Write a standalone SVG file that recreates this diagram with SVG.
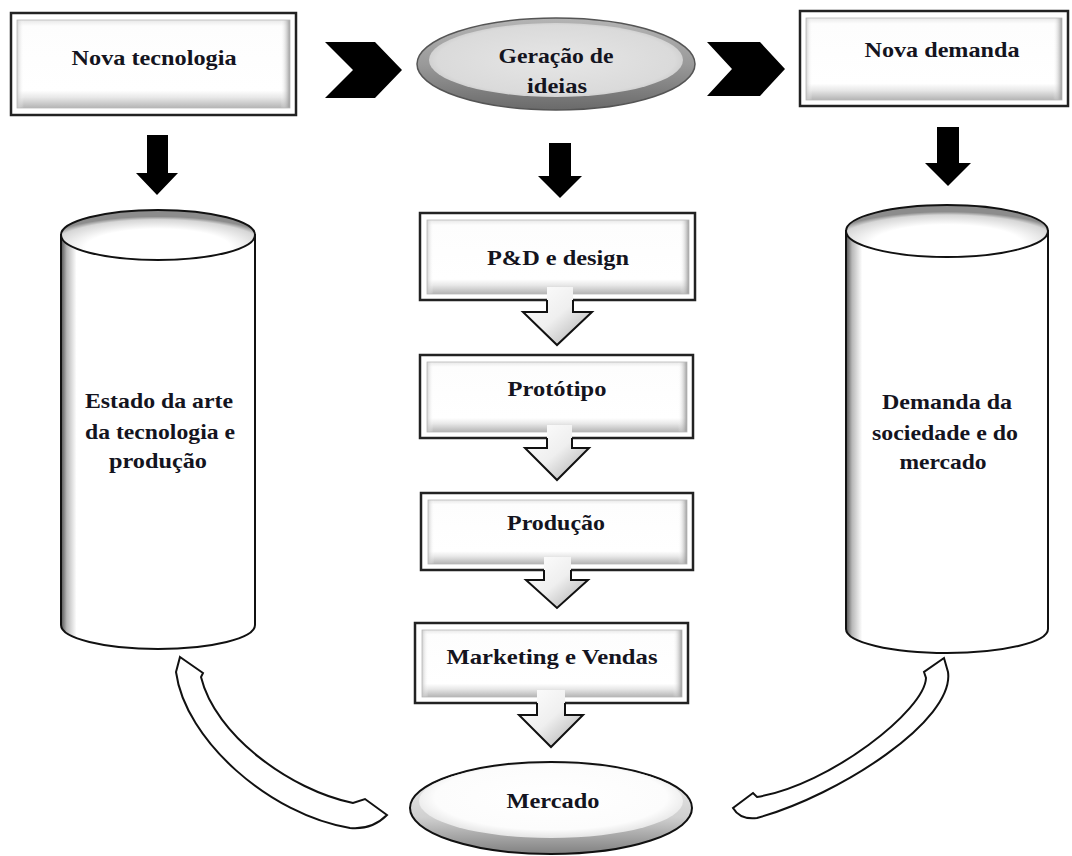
<svg xmlns="http://www.w3.org/2000/svg" width="1072" height="856" viewBox="0 0 1072 856">
<style>
.lbl{font-family:"Liberation Serif","Times New Roman",serif;font-weight:bold;font-size:22px;fill:#141420;text-anchor:middle}
.outer{fill:#fff;stroke:#222;stroke-width:2.5}
.bevV{fill:url(#bevV)}
.bevH{fill:url(#bevH);stroke:#b8b8b8;stroke-width:0.8}
.blk{fill:#000}
.hol{fill:url(#holG);stroke:none}
.holS{fill:none;stroke:#111;stroke-width:2;stroke-linejoin:miter}
.cyl{fill:url(#cylG);stroke:#111;stroke-width:2}
.cylTop{fill:url(#cylTopG);stroke:#111;stroke-width:2}
.curv{fill:#fff;stroke:#111;stroke-width:2;stroke-linejoin:miter}
</style>
<defs>
<linearGradient id="bevV" x1="0" y1="0" x2="0" y2="1">
<stop offset="0" stop-color="#e8e8e8"/>
<stop offset="0.07" stop-color="#fdfdfd"/>
<stop offset="0.8" stop-color="#ffffff"/>
<stop offset="0.88" stop-color="#e8e8e8"/>
<stop offset="1" stop-color="#b4b4b4"/>
</linearGradient>
<linearGradient id="bevH" x1="0" y1="0" x2="1" y2="0">
<stop offset="0" stop-color="#c4c4c4" stop-opacity="0.8"/>
<stop offset="0.025" stop-color="#ffffff" stop-opacity="0"/>
<stop offset="0.965" stop-color="#ffffff" stop-opacity="0"/>
<stop offset="1" stop-color="#909090" stop-opacity="0.9"/>
</linearGradient>
<linearGradient id="holG" x1="0" y1="0" x2="1" y2="1">
<stop offset="0" stop-color="#ffffff"/>
<stop offset="0.5" stop-color="#efefef"/>
<stop offset="1" stop-color="#a8a8a8"/>
</linearGradient>
<linearGradient id="cylG" x1="0" y1="0" x2="1" y2="0">
<stop offset="0" stop-color="#505050"/>
<stop offset="0.03" stop-color="#b8b8b8"/>
<stop offset="0.08" stop-color="#ffffff"/>
<stop offset="1" stop-color="#ffffff"/>
</linearGradient>
<radialGradient id="cylTopG" cx="0.5" cy="0.75" r="0.62">
<stop offset="0.6" stop-color="#ffffff"/>
<stop offset="0.9" stop-color="#d6d6d6"/>
<stop offset="1" stop-color="#8c8c8c"/>
</radialGradient>
<linearGradient id="ellGray" x1="0" y1="0" x2="0" y2="1">
<stop offset="0" stop-color="#b4b4b4"/>
<stop offset="0.5" stop-color="#9a9a9a"/>
<stop offset="1" stop-color="#6a6a6a"/>
</linearGradient>
<radialGradient id="ellGrayIn" cx="0.5" cy="0.5" r="0.55">
<stop offset="0" stop-color="#e6e6e6"/>
<stop offset="0.85" stop-color="#dadada"/>
<stop offset="1" stop-color="#c4c4c4"/>
</radialGradient>
<linearGradient id="ellWhite" x1="0" y1="0" x2="0" y2="1">
<stop offset="0" stop-color="#f4f4f4"/>
<stop offset="0.6" stop-color="#d0d0d0"/>
<stop offset="1" stop-color="#808080"/>
</linearGradient>
<radialGradient id="ellWhiteIn" cx="0.5" cy="0.45" r="0.55">
<stop offset="0" stop-color="#ffffff"/>
<stop offset="0.8" stop-color="#fcfcfc"/>
<stop offset="1" stop-color="#e4e4e4"/>
</radialGradient>
</defs>

<g id="connectors">
<polygon class="blk" points="325,42 375,42 402,70 375,98 325,98 353,70"/>
<polygon class="blk" points="707,42 760,42 785,69 760,96 707,96 732,69"/>
<polygon class="blk" points="147,135 168,135 168,173 178,173 157,195 136,173 147,173"/>
<polygon class="blk" points="549,143 571,143 571,176 582,176 560,198 538,176 549,176"/>
<polygon class="blk" points="937,127 959,127 959,163 971,163 948,186 925,163 937,163"/>
<path class="curv" d="M180,657 L203,673 L201,677 C215,735 290,790 353,803 L365,799 L387,815 Q372,830 350,828 C270,815 185,740 176,672 Z"/>
<path class="curv" d="M944,658 L924,672 L926,678 C925,710 830,785 757,797 L753,793 L733,808 Q740,820 757,818 C840,795 955,720 948,672 Z"/>
</g>

<g id="nova-tecnologia">
<rect class="outer" x="11" y="13" width="285" height="102"/>
<rect class="bevV" x="17" y="20" width="273" height="88"/>
<rect class="bevH" x="17" y="20" width="273" height="88"/>
<text class="lbl" x="154" y="65" textLength="165" lengthAdjust="spacingAndGlyphs">Nova tecnologia</text>
</g>

<g id="geracao-ideias">
<ellipse cx="556" cy="64" rx="139" ry="46" fill="url(#ellGray)" stroke="#555" stroke-width="1.5"/>
<ellipse cx="556" cy="60" rx="127" ry="37" fill="url(#ellGrayIn)"/>
<text class="lbl" x="556" y="63" textLength="115" lengthAdjust="spacingAndGlyphs">Geração de</text>
<text class="lbl" x="557" y="93" textLength="60" lengthAdjust="spacingAndGlyphs">ideias</text>
</g>

<g id="nova-demanda">
<rect class="outer" x="800" y="11" width="268" height="95"/>
<rect class="bevV" x="806" y="18" width="256" height="82"/>
<rect class="bevH" x="806" y="18" width="256" height="82"/>
<text class="lbl" x="942" y="57" textLength="155" lengthAdjust="spacingAndGlyphs">Nova demanda</text>
</g>

<g id="estado-arte">
<path class="cyl" d="M61,235 L61,625 A97,24 0 0 0 255,625 L255,235 Z"/>
<ellipse class="cylTop" cx="158" cy="235" rx="97" ry="25"/>
<text class="lbl" x="159" y="408" textLength="148" lengthAdjust="spacingAndGlyphs">Estado da arte</text>
<text class="lbl" x="160" y="439" textLength="150" lengthAdjust="spacingAndGlyphs">da tecnologia e</text>
<text class="lbl" x="158" y="468" textLength="98" lengthAdjust="spacingAndGlyphs">produção</text>
</g>

<g id="demanda-sociedade">
<path class="cyl" d="M846,231 L846,629 A101,24 0 0 0 1048,629 L1048,231 Z"/>
<ellipse class="cylTop" cx="947" cy="231" rx="101" ry="26"/>
<text class="lbl" x="947" y="409" textLength="130" lengthAdjust="spacingAndGlyphs">Demanda da</text>
<text class="lbl" x="945" y="440" textLength="146" lengthAdjust="spacingAndGlyphs">sociedade e do</text>
<text class="lbl" x="943" y="469" textLength="87" lengthAdjust="spacingAndGlyphs">mercado</text>
</g>

<g id="pd-design">
<rect class="outer" x="420" y="213" width="275" height="87"/>
<rect class="bevV" x="427" y="220" width="262" height="74"/>
<rect class="bevH" x="427" y="220" width="262" height="74"/>
<text class="lbl" x="558" y="265" textLength="142" lengthAdjust="spacingAndGlyphs">P&amp;D e design</text>
</g>

<g id="prototipo">
<rect class="outer" x="420" y="355" width="273" height="83"/>
<rect class="bevV" x="427" y="362" width="260" height="70"/>
<rect class="bevH" x="427" y="362" width="260" height="70"/>
<text class="lbl" x="557" y="396" textLength="99" lengthAdjust="spacingAndGlyphs">Protótipo</text>
</g>

<g id="producao">
<rect class="outer" x="421" y="493" width="272" height="77"/>
<rect class="bevV" x="428" y="500" width="259" height="64"/>
<rect class="bevH" x="428" y="500" width="259" height="64"/>
<text class="lbl" x="556" y="530" textLength="98" lengthAdjust="spacingAndGlyphs">Produção</text>
</g>

<g id="marketing-vendas">
<rect class="outer" x="415" y="623" width="273" height="80"/>
<rect class="bevV" x="422" y="630" width="260" height="67"/>
<rect class="bevH" x="422" y="630" width="260" height="67"/>
<text class="lbl" x="552" y="664" textLength="211" lengthAdjust="spacingAndGlyphs">Marketing e Vendas</text>
</g>

<g id="mercado">
<ellipse cx="551" cy="808" rx="141" ry="46" fill="url(#ellWhite)" stroke="#111" stroke-width="2"/>
<ellipse cx="551" cy="801" rx="132" ry="37" fill="url(#ellWhiteIn)"/>
<text class="lbl" x="553" y="808" textLength="93" lengthAdjust="spacingAndGlyphs">Mercado</text>
</g>

<g id="flow-arrows">
<polygon class="hol" points="547,287 573,287 573,312 592,312 557,345 523,312 547,312"/>
<polyline class="holS" points="573,300 573,312 592,312 557,345 523,312 547,312 547,300"/>
<polygon class="hol" points="547,425 572,425 572,448 589,448 557,480 525,448 547,448"/>
<polyline class="holS" points="572,438 572,448 589,448 557,480 525,448 547,448 547,438"/>
<polygon class="hol" points="544,557 571,557 571,580 588,580 557,608 526,580 544,580"/>
<polyline class="holS" points="571,570 571,580 588,580 557,608 526,580 544,580 544,570"/>
<polygon class="hol" points="537,690 565,690 565,715 583,715 551,747 519,715 537,715"/>
<polyline class="holS" points="565,703 565,715 583,715 551,747 519,715 537,715 537,703"/>
</g>
</svg>
